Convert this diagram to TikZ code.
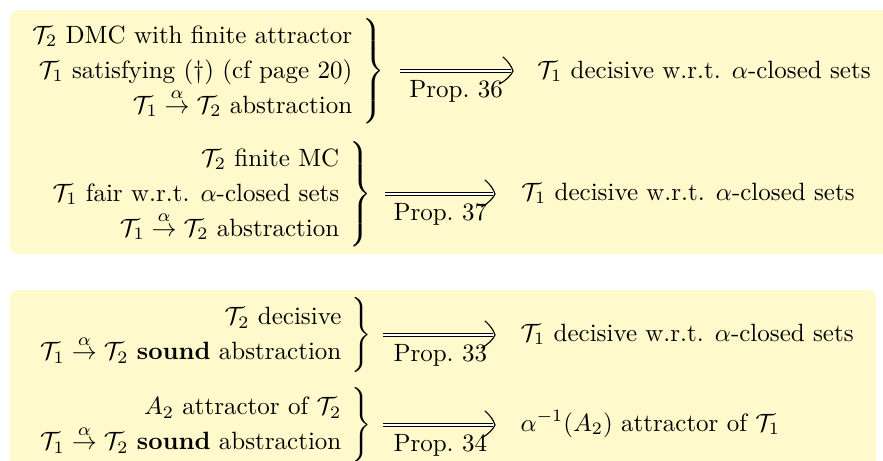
\documentclass[tikz,border=0pt]{standalone}
\usepackage{amsmath}
\usetikzlibrary{calc}
\definecolor{boxyellow}{RGB}{255,249,204}
\newcommand{\Tc}[1]{\mathcal{T}_{#1}}
\newcommand{\abstr}{\stackrel{\alpha}{\rightarrow}}
\renewcommand{\arraystretch}{1.1667}
\begin{document}
\begin{tikzpicture}[x=0.4pt,y=-0.4pt,
  panel/.style={fill=boxyellow, rounded corners=3.2pt},
  hyp/.style={inner sep=0pt, anchor=east},
  concl/.style={inner sep=0pt, anchor=base west},
  dblline/.style={double, double distance=1.1pt, line width=0.4pt, shorten >=0.6pt},
  proplabel/.style={pos=0.555, below=3.6pt, inner sep=0pt},
  bighead/.pic={\draw[line width=0.45pt, line cap=round]
     (-4pt,5.6pt) .. controls (-2pt,4pt) and (-0.4pt,1.6pt) .. (0,0)
     .. controls (-0.6pt,-1.6pt) and (-2.8pt,-3.8pt) .. (-5.4pt,-5.2pt);}
]
\useasboundingbox (0,0) rectangle (883,461);
\fill[panel] (10,10) rectangle (900,254);
\fill[panel] (10,290) rectangle (876,480);

\node[hyp] (h1) at (385,71) {\delimiterfactor=800 $\left.\begin{tabular}{@{}r@{\hspace{4pt}}}$\Tc2$ DMC with finite attractor\\ $\Tc1$ satisfying (\dag) (cf page 20)\\ $\Tc1\abstr\Tc2$ abstraction\end{tabular}\right\}$};
\node[concl] (c1) at (537,78) {$\Tc1$ decisive w.r.t. $\alpha$-closed sets};
\coordinate (t1) at ($(h1.east -| c1.west)+(-9.6pt,0)$);
\draw[dblline, shorten <=6pt] (h1.east) -- (t1) node[proplabel] {Prop.~36};
\pic at (t1) {bighead};

\node[hyp] (h2) at (372,194) {\delimiterfactor=800 $\left.\begin{tabular}{@{}r@{\hspace{4pt}}}$\Tc2$ finite MC\\ $\Tc1$ fair w.r.t. $\alpha$-closed sets\\ $\Tc1\abstr\Tc2$ abstraction\end{tabular}\right\}$};
\node[concl] (c2) at (521,200) {$\Tc1$ decisive w.r.t. $\alpha$-closed sets};
\coordinate (t2) at ($(h2.east -| c2.west)+(-10.4pt,0)$);
\draw[dblline, shorten <=5.2pt] (h2.east) -- (t2) node[proplabel] {Prop.~37};
\pic at (t2) {bighead};

\node[hyp] (h3) at (372,335) {$\left.\begin{tabular}{@{}r@{\hspace{4pt}}}$\Tc2$ decisive\\ $\Tc1\abstr\Tc2$ \textbf{sound} abstraction\end{tabular}\right\}$};
\node[concl] (c3) at (520,341) {$\Tc1$ decisive w.r.t. $\alpha$-closed sets};
\coordinate (t3) at ($(h3.east -| c3.west)+(-10pt,0)$);
\draw[dblline, shorten <=4.4pt] (h3.east) -- (t3) node[proplabel] {Prop.~33};
\pic at (t3) {bighead};

\node[hyp] (h4) at (372,425) {$\left.\begin{tabular}{@{}r@{\hspace{4pt}}}$A_2$ attractor of $\Tc2$\\ $\Tc1\abstr\Tc2$ \textbf{sound} abstraction\end{tabular}\right\}$};
\node[concl] (c4) at (520,431) {$\alpha^{-1}(A_2)$ attractor of $\Tc1$};
\coordinate (t4) at ($(h4.east -| c4.west)+(-10pt,0)$);
\draw[dblline, shorten <=4.4pt] (h4.east) -- (t4) node[proplabel] {Prop.~34};
\pic at (t4) {bighead};
\end{tikzpicture}
\end{document}
